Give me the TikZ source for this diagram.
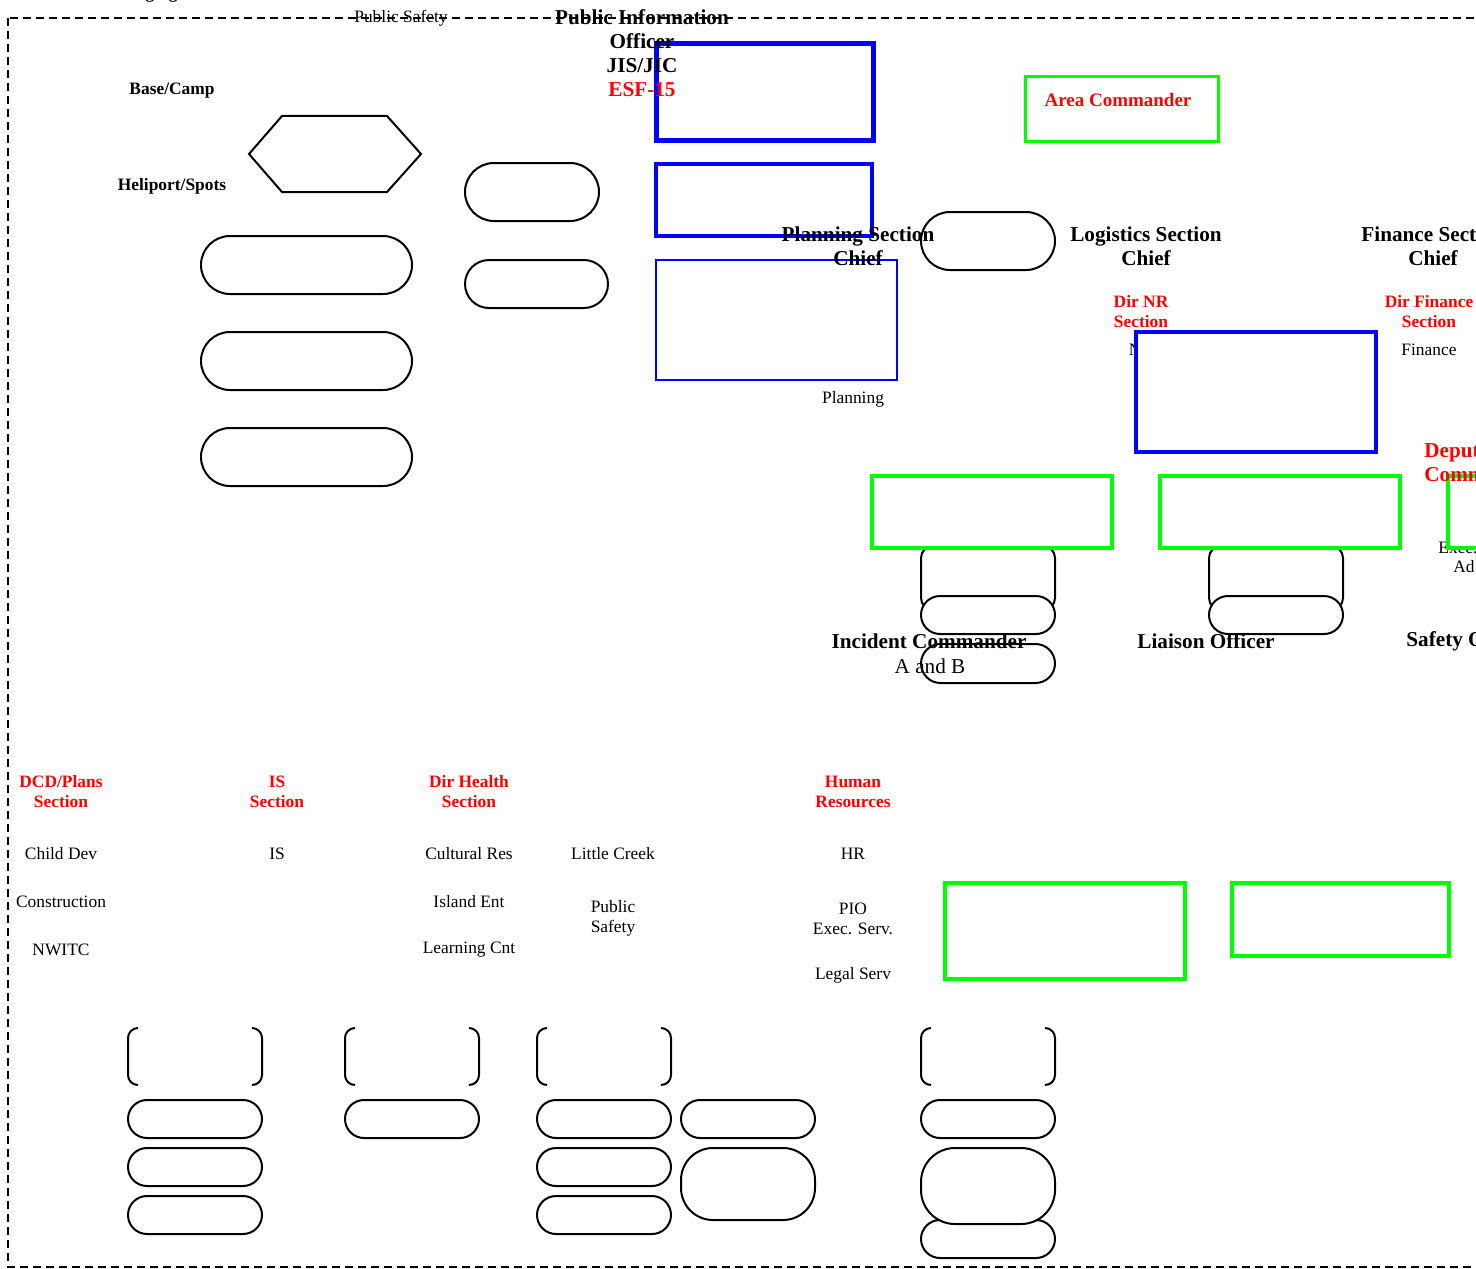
\documentclass[tikz,border=0pt]{standalone}
\usepackage{fontspec}
\setmainfont{Liberation Serif}
\usepackage{tikz}
\definecolor{boxblue}{RGB}{0,0,255}
\definecolor{boxgreen}{RGB}{0,255,0}
\tikzset{
  big/.style={font=\bfseries\fontsize{10.6}{12}\selectfont, align=center, inner sep=0pt},
  bigr/.style={font=\fontsize{10.6}{12}\selectfont, align=center, inner sep=0pt},
  smb/.style={font=\bfseries\fontsize{8.7}{10}\selectfont, align=center, inner sep=0pt},
  redb/.style={smb, text=red},
  sml/.style={font=\fontsize{8.7}{10}\selectfont, align=center, inner sep=0pt},
  pill/.style={draw, fill=white, line width=1pt, rounded corners=#1},
  bluebox/.style={draw=boxblue, line width=#1},
  greenbox/.style={draw=boxgreen, fill=white, line width=#1}
}
\begin{document}
\begin{tikzpicture}[x=0.5pt, y=-0.5pt]
\useasboundingbox (0,0) rectangle (1476,1268);
\clip (0,0) rectangle (1476,1268);
% outer frame
\draw[line width=0.7pt, dash pattern=on 4pt off 2.5pt] (8,18) rectangle (1520,1267);
\node[smb, anchor=base west] at (121,-1) {Staging};
% left side
\draw[line width=1pt, fill=white] (249,154)--(282,116)--(387,116)--(421,154)--(387,192)--(282,192)--cycle;
\foreach \y in {236,332,428}
  \draw[pill=14.5pt] (201,\y) rectangle (412,\y+58);
\draw[pill=14.5pt] (465,163) rectangle (599,221);
\draw[pill=12pt] (465,260) rectangle (608,308);
% blue boxes
\draw[bluebox=2.5pt] (656,44) rectangle (873,140);
\draw[bluebox=2pt] (656,164) rectangle (872,236);
\draw[bluebox=1pt] (656,260) rectangle (897,380);
\draw[greenbox=1.5pt] (1025,77) rectangle (1218,141);
\draw[pill=14.5pt] (921,212) rectangle (1055,270);
\node[sml] at (1141,350) {NR};
\draw[bluebox=2pt, fill=white] (1136,332) rectangle (1376,452);
% commander row
\node[sml, anchor=west] at (1438,548) {Exec.};
\node[sml, anchor=west] at (1453,567) {Ad};
\foreach \x in {921,1209} {
  \draw[pill=6pt] (\x,546) rectangle (\x+134,610);
  \draw[pill=9.5pt] (\x,596) rectangle (\x+134,634);
}
\draw[pill=9.75pt] (921,644) rectangle (1055,683);
\draw[greenbox=2pt] (872,476) rectangle (1112,548);
\draw[greenbox=2pt] (1160,476) rectangle (1400,548);
\draw[greenbox=2pt] (1448,476) rectangle (1690,548);
% lower boxes
\draw[greenbox=2pt] (945,883) rectangle (1185,979);
\draw[greenbox=2pt] (1232,883) rectangle (1449,956);
\foreach \x in {128,345,537,921} {
  \draw[line width=1pt, rounded corners=5pt] (\x+10,1028)--(\x,1028)--(\x,1085)--(\x+10,1085);
  \draw[line width=1pt, rounded corners=5pt] (\x+124,1028)--(\x+134,1028)--(\x+134,1085)--(\x+124,1085);
  \draw[pill=9.5pt] (\x,1100) rectangle (\x+134,1138);
}
\foreach \y in {1148,1196} {
  \draw[pill=9.5pt] (128,\y) rectangle (262,\y+38);
  \draw[pill=9.5pt] (537,\y) rectangle (671,\y+38);
}
\draw[pill=9.5pt] (681,1100) rectangle (815,1138);
\draw[pill=16pt] (681,1148) rectangle (815,1220);
\draw[pill=9.5pt] (921,1220) rectangle (1055,1258);
\draw[pill=17pt] (921,1148) rectangle (1055,1224);
% labels
\node[sml] at (401,18) {Public Safety};
\node[big] at (642,53) {Public Information\\Officer\\JIS/JIC\\\textcolor{red}{ESF-15}};
\node[smb] at (172,91) {Base/Camp};
\node[smb] at (172,186) {Heliport/Spots};
\node[redb, font=\bfseries\fontsize{9.5}{11}\selectfont] at (1118,100) {Area Commander};
\node[big] at (858,246) {Planning Section\\Chief};
\node[big] at (1146,246) {Logistics Section\\Chief};
\node[big] at (1433,246) {Finance Section\\Chief};
\node[redb] at (1141,312) {Dir NR\\Section};
\node[redb] at (1429,312) {Dir Finance\\Section};
\node[sml] at (1429,350) {Finance};
\node[sml] at (853,399) {Planning};
\node[big, text=red, anchor=west, align=left] at (1424,463) {Deputy\\Commander};
\node[big] at (929,641) {Incident Commander};
\node[bigr] at (930,666) {A and B};
\node[big] at (1206,641) {Liaison Officer};
\node[big, anchor=west] at (1406,641) {Safety Officer};
% sections
\node[redb] at (61,792) {DCD/Plans\\Section};
\node[redb] at (277,792) {IS\\Section};
\node[redb] at (469,792) {Dir Health\\Section};
\node[redb] at (853,792) {Human\\Resources};
\node[sml] at (61,854) {Child Dev};
\node[sml] at (61,902) {Construction};
\node[sml] at (61,950) {NWITC};
\node[sml] at (277,854) {IS};
\node[sml] at (469,854) {Cultural Res};
\node[sml] at (469,902) {Island Ent};
\node[sml] at (469,950) {Learning Cnt};
\node[sml] at (613,854) {Little Creek};
\node[sml] at (613,918) {Public\\Safety};
\node[sml] at (853,854) {HR};
\node[sml] at (853,919) {PIO\\Exec. Serv.};
\node[sml] at (853,975) {Legal Serv};
\end{tikzpicture}
\end{document}
